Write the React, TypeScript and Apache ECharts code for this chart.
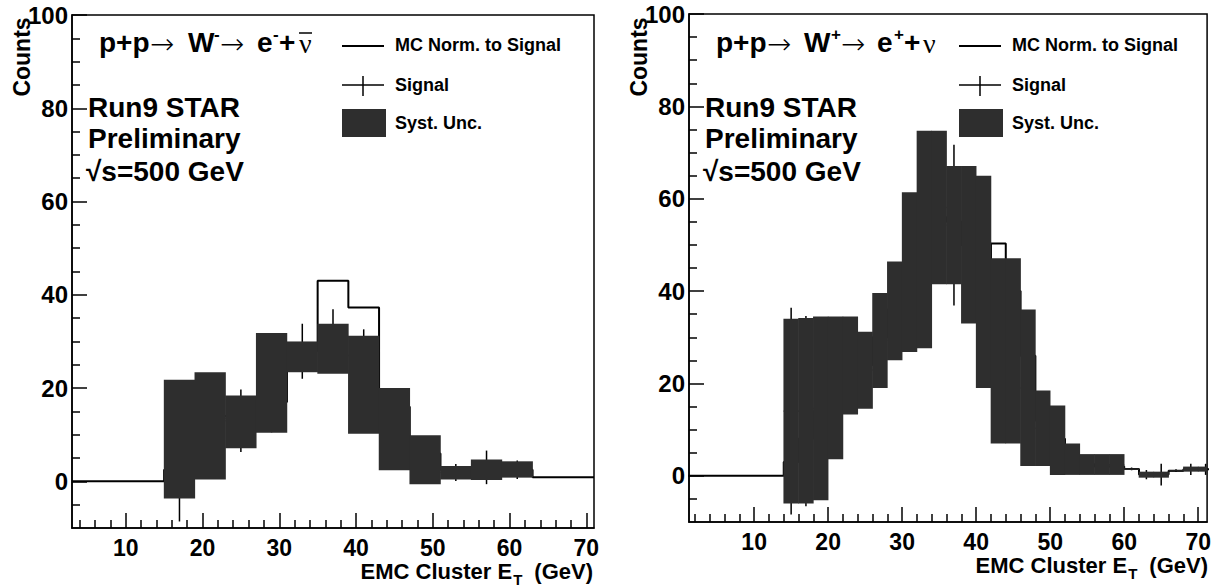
import React, { useEffect, useRef } from "react";
import * as echarts from "echarts";

const SANS = '"Liberation Sans", Arial, Helvetica, sans-serif';
const BAND = "#2e2e2e";

// ===== Left panel: p+p -> W- -> e- + nubar (4 GeV bins) =====
const wmEdges = [3, 7, 11, 15, 19, 23, 27, 31, 35, 39, 43, 47, 51, 55, 59, 63, 67, 71];
const wmMC = [0, 0, 0, 2.5, 14, 14, 17, 28, 43, 37.3, 16, 6, 2.5, 3, 2.5, 0.9, 0.9];
const wmSystHi = [null, null, null, 21.8, 23.4, 18.4, 31.8, 30, 33.8, 31.2, 20, 9.9, 3.3, 4.7, 4.3, null, null];
const wmSystLo = [null, null, null, -3.7, 0.4, 7.1, 10.4, 23.4, 23.1, 10.2, 2.4, -0.6, 0.4, 0.3, 0.8, null, null];
const wmSignal = [null, null, null, 2.6, 13.5, 13, 17, 27.9, 31, 27, 10.5, 4.5, 1.9, 3, 2.5, null, null];
const wmStatErr = [null, null, null, 11.2, 7, 6.7, 6.5, 5.9, 5.9, 5.6, 4.5, 3.2, 1.8, 3.6, 2, null, null];

// ===== Right panel: p+p -> W+ -> e+ + nu (2 GeV bins) =====
const wpEdges = [0, 14, 16, 18, 20, 22, 24, 26, 28, 30, 32, 34, 36, 38, 40, 42, 44, 46, 48, 50, 52, 54, 56, 58, 60, 62, 64, 66, 68, 70, 72];
const wpMC = [0, 3, 8, 14, 18, 22, 24, 30, 36, 45, 52, 56, 55, 50, 42, 50.3, 40, 26, 12, 8, 4, 2.5, 2, 2, 1.5, 0.3, 0.3, 1.1, 1.4, 1.4];
const wpSystHi = [null, 34.0, 34.2, 34.5, 34.5, 34.5, 31.2, 39.6, 46.4, 61.4, 74.7, 74.7, 67.1, 67.1, 65.0, 47.1, 47.1, 36.0, 18.5, 15.2, 7.0, 4.7, 4.7, 4.7, 1.6, 0.9, 0.9, 1.2, 2.0, 2.0];
const wpSystLo = [null, -6.0, -6.0, -5.3, 3.6, 13.3, 14.5, 19.0, 25.0, 26.8, 27.6, 41.5, 41.5, 33.0, 19.0, 7.0, 7.0, 2.1, 2.1, 0.2, 0.2, 0.2, 0.2, 0.2, 1.3, -0.4, -0.4, 1.0, 0.9, 0.9];
const wpSignal = [null, 14, 14, 14.6, 19, 23.9, 22.9, 29.3, 35.7, 44, 51.2, 58.1, 54.3, 50, 42, 27, 27, 19, 10.3, 7.7, 3.6, 2.4, 2.4, 2.4, 1.5, 0.25, 0.25, 1.1, 1.4, 1.4];
const wpStatErr = [null, 22.4, 20.6, 12, 10, 8, 7, 8, 8, 9, 10, 10, 17.4, 10, 9, 8, 8, 7, 5, 4, 3, 2, 2, 2, 0.3, 1, 2.35, 0.3, 1.2, 1.2];

// ===== Axis ticks =====
const xMajorTicks = [10, 20, 30, 40, 50, 60, 70];
const xMinorTicks = [2, 4, 6, 8, 12, 14, 16, 18, 22, 24, 26, 28, 32, 34, 36, 38, 42, 44, 46, 48, 52, 54, 56, 58, 62, 64, 66, 68];
const yMajorTicks = [0, 20, 40, 60, 80, 100];
const yMinorTicks = [-5, 5, 10, 15, 25, 30, 35, 45, 50, 55, 65, 70, 75, 85, 90, 95];

const PANELS = [
  { left: 72, top: 15, width: 522, height: 513, xMin: 3, xMax: 71, charge: "-" },
  { left: 689, top: 14, width: 520, height: 508, xMin: 1.2, xMax: 71.2, charge: "+" },
];

let measureCtx: CanvasRenderingContext2D | null = null;
function textWidth(t: string, font: string) {
  if (!measureCtx) measureCtx = document.createElement("canvas").getContext("2d");
  if (!measureCtx) return t.length * 12;
  measureCtx.font = font;
  return measureCtx.measureText(t).width;
}

function binRects(edges: number[], lo: any[], hi: any[]) {
  const out: number[][] = [];
  for (let i = 0; i < edges.length - 1; i++) {
    if (hi[i] != null && lo[i] != null) out.push([edges[i], edges[i + 1], lo[i], hi[i]]);
  }
  return out;
}
function stepPoints(edges: number[], vals: number[]) {
  const pts = vals.map((v, i) => [edges[i], v]);
  pts.push([edges[edges.length - 1], vals[vals.length - 1]]);
  return pts;
}
function signalPoints(edges: number[], vals: any[], errs: any[]) {
  const out: number[][] = [];
  for (let i = 0; i < edges.length - 1; i++) {
    if (vals[i] != null) out.push([edges[i], edges[i + 1], vals[i], errs[i]]);
  }
  return out;
}

function txt(x: number, y: number, text: string, font: string, align = "left", extra: any = {}) {
  return {
    type: "text",
    x,
    y,
    z: 100,
    ...extra,
    style: {
      text,
      font,
      fill: "#000",
      align,
      verticalAlign: "middle",
      textAlign: align,
      textVerticalAlign: "middle",
    },
  };
}

function panelGraphics(p: any) {
  const L = p.left;
  const R = p.left + p.width;
  const g: any[] = [];
  const big = `bold 28px ${SANS}`;
  const sup = `bold 17px ${SANS}`;
  const arrow = `200 29px "DejaVu Sans", sans-serif`;
  const nu = `28px "Liberation Serif", serif`;
  const isMinus = p.charge === "-";
  // y title
  g.push(txt(L - 50, 57, "Counts", `bold 23px ${SANS}`, "center", { rotation: Math.PI / 2 }));
  // reaction
  const ry = 42;
  const o = isMinus
    ? { pp: 27, a1: 78, W: 116, s1: 142, a2: 148, e: 185, s2: 201, plus: 207, nu: 227 }
    : { pp: 27, a1: 78, W: 115, s1: 142, a2: 152, e: 188, s2: 205, plus: 215, nu: 234 };
  g.push(txt(L + o.pp, ry, "p+p", big));
  g.push(txt(L + o.a1, ry + 2, "\u2192", arrow));
  g.push(txt(L + o.W, ry, "W", big));
  g.push(txt(L + o.s1, ry - 8, isMinus ? "-" : "+", sup));
  g.push(txt(L + o.a2, ry + 2, "\u2192", arrow));
  g.push(txt(L + o.e, ry, "e", big));
  g.push(txt(L + o.s2, ry - 8, isMinus ? "-" : "+", sup));
  g.push(txt(L + o.plus, ry, "+", big));
  g.push(txt(L + o.nu, ry + 1, "\u03BD", nu));
  if (isMinus) {
    g.push({ type: "line", z: 100, shape: { x1: L + o.nu, y1: 33, x2: L + o.nu + 13, y2: 33 }, style: { stroke: "#000", lineWidth: 1.5 } });
  }
  // STAR labels
  g.push(txt(L + 16, 107, "Run9 STAR", big));
  g.push(txt(L + 16, 138, "Preliminary", big));
  g.push(txt(L + 14, 171, "\u221As=500 GeV", big));
  // legend
  const lg = `bold 18px ${SANS}`;
  g.push({ type: "line", z: 100, shape: { x1: L + 270, y1: 46, x2: L + 312, y2: 46 }, style: { stroke: "#000", lineWidth: 2 } });
  g.push(txt(L + 323, 45, "MC Norm. to Signal", lg));
  g.push({ type: "line", z: 100, shape: { x1: L + 270, y1: 85, x2: L + 312, y2: 85 }, style: { stroke: "#000", lineWidth: 1.5 } });
  g.push({ type: "line", z: 100, shape: { x1: L + 291, y1: 76, x2: L + 291, y2: 96 }, style: { stroke: "#000", lineWidth: 1.5 } });
  g.push(txt(L + 323, 85, "Signal", lg));
  g.push({ type: "rect", z: 100, shape: { x: L + 270, y: 109, width: 44, height: 28 }, style: { fill: BAND } });
  g.push(txt(L + 323, 123, "Syst. Unc.", lg));
  // x title
  const tf = `bold 22px ${SANS}`;
  const sf = `bold 15px ${SANS}`;
  const t1 = "EMC Cluster E";
  const t2 = "T";
  const t3 = "(GeV)";
  const w1 = textWidth(t1, tf);
  const w2 = textWidth(t2, sf);
  const w3 = textWidth(t3, tf);
  const gap = 13;
  const xs = R - 1 - (w1 + w2 + gap + w3);
  const ty = p.top + p.height + 43;
  g.push(txt(xs, ty, t1, tf));
  g.push(txt(xs + w1 + 1, ty + 8, t2, sf));
  g.push(txt(R - 1, ty, t3, tf, "right"));
  return g;
}

function buildOption() {
  const data = [
    { edges: wmEdges, mc: wmMC, lo: wmSystLo, hi: wmSystHi, sig: wmSignal, err: wmStatErr },
    { edges: wpEdges, mc: wpMC, lo: wpSystLo, hi: wpSystHi, sig: wpSignal, err: wpStatErr },
  ];
  const grid: any[] = [];
  const xAxis: any[] = [];
  const yAxis: any[] = [];
  const series: any[] = [];
  let graphic: any[] = [];
  const axisLineStyle = { color: "#000", width: 1.5 };
  const labelBase = { color: "#000", fontWeight: "bold", fontFamily: SANS };

  PANELS.forEach((p, i) => {
    const d = data[i];
    grid.push({
      left: p.left, top: p.top, width: p.width, height: p.height,
      show: true, borderColor: "#000", borderWidth: 1.5, backgroundColor: "transparent",
    });
    xAxis.push({
      type: "value", gridIndex: i, min: p.xMin, max: p.xMax, position: "bottom",
      axisLine: { show: true, onZero: false, lineStyle: axisLineStyle },
      axisTick: { show: true, inside: true, length: 15, customValues: xMajorTicks, lineStyle: axisLineStyle },
      axisLabel: { show: true, customValues: xMajorTicks, margin: 8, fontSize: 23, ...labelBase },
      splitLine: { show: false },
    });
    xAxis.push({
      type: "value", gridIndex: i, min: p.xMin, max: p.xMax, position: "bottom",
      axisLine: { show: false, onZero: false },
      axisTick: { show: true, inside: true, length: 8, customValues: xMinorTicks.filter((v) => v > p.xMin && v < p.xMax), lineStyle: axisLineStyle },
      axisLabel: { show: false },
      splitLine: { show: false },
    });
    yAxis.push({
      type: "value", gridIndex: i, min: -10, max: 100, position: "left",
      axisLine: { show: true, onZero: false, lineStyle: axisLineStyle },
      axisTick: { show: true, inside: true, length: 15, customValues: yMajorTicks, lineStyle: axisLineStyle },
      axisLabel: { show: true, customValues: yMajorTicks, margin: 4, fontSize: 24, ...labelBase },
      splitLine: { show: false },
    });
    yAxis.push({
      type: "value", gridIndex: i, min: -10, max: 100, position: "left",
      axisLine: { show: false, onZero: false },
      axisTick: { show: true, inside: true, length: 8, customValues: yMinorTicks, lineStyle: axisLineStyle },
      axisLabel: { show: false },
      splitLine: { show: false },
    });
    const xi = 2 * i;
    const yi = 2 * i;
    series.push({
      type: "line", xAxisIndex: xi, yAxisIndex: yi, step: "end", showSymbol: false, symbol: "none",
      data: stepPoints(d.edges, d.mc), lineStyle: { color: "#000", width: 2 }, clip: true, z: 2, silent: true,
    });
    series.push({
      type: "custom", xAxisIndex: xi, yAxisIndex: yi, z: 3, silent: true,
      data: signalPoints(d.edges, d.sig, d.err),
      encode: { x: [0, 1], y: [2] },
      renderItem: (params: any, api: any) => {
        const cs = params.coordSys;
        const x0v = api.value(0), x1v = api.value(1), v = api.value(2), e = api.value(3);
        const a = api.coord([x0v, v]);
        const b = api.coord([x1v, v]);
        const c = api.coord([(x0v + x1v) / 2, v + e]);
        const dd = api.coord([(x0v + x1v) / 2, v - e]);
        const xa = Math.max(a[0], cs.x);
        const xb = Math.min(b[0], cs.x + cs.width);
        const st = { stroke: "#000", lineWidth: 1.5 };
        const children: any[] = [
          { type: "line", shape: { x1: xa, y1: a[1], x2: xb, y2: a[1] }, style: st },
        ];
        if (c[0] <= cs.x + cs.width) {
          children.push({ type: "line", shape: { x1: c[0], y1: c[1], x2: c[0], y2: dd[1] }, style: st });
        }
        return { type: "group", children };
      },
    });
    series.push({
      type: "custom", xAxisIndex: xi, yAxisIndex: yi, z: 4, silent: true,
      data: binRects(d.edges, d.lo, d.hi),
      encode: { x: [0, 1], y: [2, 3] },
      renderItem: (params: any, api: any) => {
        const cs = params.coordSys;
        const a = api.coord([api.value(0), api.value(3)]);
        const b = api.coord([api.value(1), api.value(2)]);
        const x0 = Math.max(a[0], cs.x);
        const x1 = Math.min(b[0], cs.x + cs.width);
        return {
          type: "rect",
          shape: { x: x0 - 0.3, y: a[1], width: x1 - x0 + 0.6, height: b[1] - a[1] },
          style: { fill: BAND },
        };
      },
    });
    graphic = graphic.concat(panelGraphics(p));
  });

  return {
    animation: false,
    backgroundColor: "#fff",
    grid,
    xAxis,
    yAxis,
    series,
    graphic,
  };
}

export default function App() {
  const ref = useRef<HTMLDivElement>(null);
  useEffect(() => {
    if (!ref.current) return;
    const chart = echarts.init(ref.current, undefined, { renderer: "svg" });
    chart.setOption(buildOption() as any);
    return () => chart.dispose();
  }, []);
  return (
    <div
      ref={ref}
      style={{ position: "absolute", left: 0, top: 0, width: 1214, height: 588, background: "#fff" }}
    />
  );
}
